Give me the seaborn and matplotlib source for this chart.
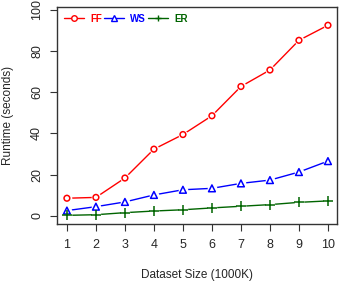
import numpy as np
import pandas as pd
import matplotlib
matplotlib.use("Agg")
import matplotlib.pyplot as plt
import seaborn as sns
from matplotlib.lines import Line2D

# data
sizes = [1, 2, 3, 4, 5, 6, 7, 8, 9, 10]
ff = [8.6, 9.0, 18.4, 32.4, 39.5, 48.6, 62.8, 70.8, 85.2, 92.5]
ws = [2.6, 4.5, 6.8, 10.2, 12.7, 13.4, 15.8, 17.4, 21.3, 26.6]
er = [0.3, 0.6, 1.6, 2.4, 3.0, 3.9, 4.7, 5.5, 6.6, 7.3]
methods = ["FF", "WS", "ER"]
colors = {"FF": "#ff0000", "WS": "#0000ff", "ER": "#006400"}
markers = {"FF": "o", "WS": "^", "ER": "+"}

df = pd.DataFrame({
    "size": sizes * 3,
    "runtime": ff + ws + er,
    "method": ["FF"] * 10 + ["WS"] * 10 + ["ER"] * 10,
})

sns.set_style("ticks")
plt.rcParams["font.family"] = ["Liberation Sans", "DejaVu Sans"]

fig = plt.figure(figsize=(3.47, 2.83), dpi=100)
ax = fig.add_axes([0.164, 0.2085, 0.807, 0.7685])

# lines
sns.lineplot(data=df, x="size", y="runtime", hue="method", hue_order=methods,
             palette=colors, linewidth=1.0, legend=False, ax=ax, zorder=2)
# white gap behind markers (R type="b" look)
sns.scatterplot(data=df, x="size", y="runtime", color="white", s=48,
                linewidth=0, legend=False, ax=ax, zorder=3)
# markers
for m in methods:
    sub = df[df["method"] == m]
    if markers[m] == "+":
        ax.scatter(sub["size"], sub["runtime"], marker="+", s=42,
                   color=colors[m], linewidths=1.1, zorder=4)
    elif markers[m] == "^":
        ax.scatter(sub["size"], sub["runtime"], marker="^", s=24,
                   facecolors="none", edgecolors=colors[m], linewidths=1.1, zorder=4)
    else:
        ax.scatter(sub["size"], sub["runtime"], marker="o", s=17,
                   facecolors="none", edgecolors=colors[m], linewidths=1.1, zorder=4)

ax.set_xlim(0.655, 10.31)
ax.set_ylim(-3.9, 101.6)
ax.set_xticks(sizes)
ax.set_yticks([0, 20, 40, 60, 80, 100])
ax.set_yticklabels(["0", "20", "40", "60", "80", "100"], rotation=90, va="center")
ax.tick_params(axis="both", direction="out", length=5, width=0.8, color="#333333",
               labelsize=9, pad=6)
ax.tick_params(axis="y", pad=5)
for s in ax.spines.values():
    s.set_visible(True)
    s.set_linewidth(1.0)
    s.set_color("#333333")

ax.set_xlabel("Dataset Size (1000K)", fontsize=8.5, labelpad=13)
ax.set_ylabel("Runtime (seconds)", fontsize=8.5, labelpad=12)

handles = [Line2D([0], [0], color=colors[m], marker=markers[m], markersize=4,
                  markerfacecolor="white", markeredgewidth=1.0, linewidth=1.0)
           for m in methods]
leg = ax.legend(handles, methods, loc="upper left", ncol=3, frameon=False,
                handlelength=2.0, handletextpad=0.7, columnspacing=0.2,
                borderaxespad=0.35, prop={"size": 7, "weight": "bold"})
for t, m in zip(leg.get_texts(), methods):
    t.set_color(colors[m])

fig.savefig("out.png", dpi=100)
